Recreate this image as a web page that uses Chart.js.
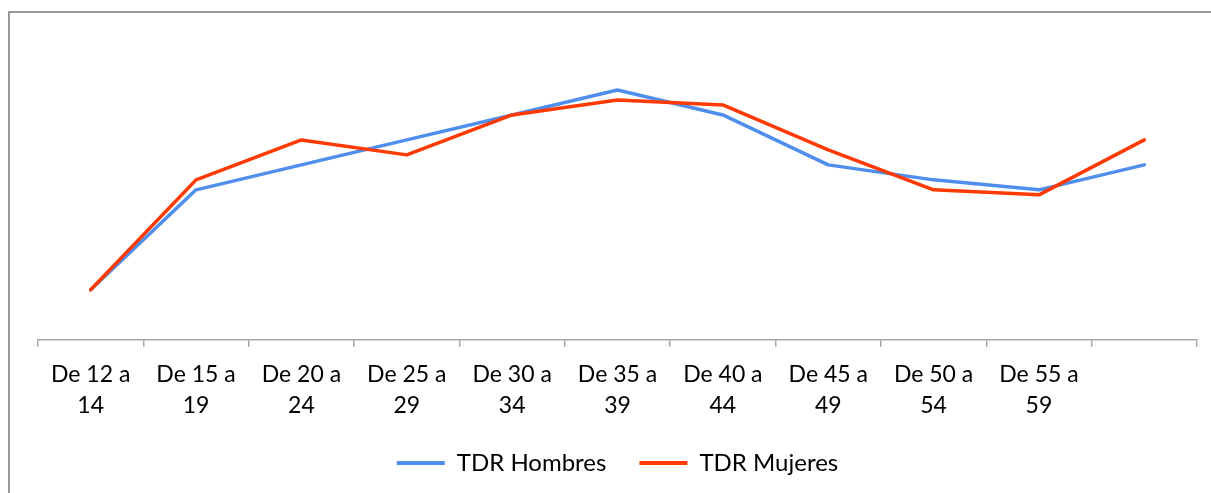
<!DOCTYPE html>
<html>
<head>
<meta charset="utf-8">
<script src="https://cdn.jsdelivr.net/npm/chart.js@4/dist/chart.umd.min.js"></script>
<style>
  html, body { margin: 0; padding: 0; background: #fff; }
  #wrap { position: relative; width: 1211px; height: 493px; overflow: hidden; }
  #frame { position: absolute; left: 8px; top: 11px; width: 1300px; height: 600px;
           border-top: 2px solid #999; border-left: 2px solid #999; box-sizing: border-box; }
  canvas { position: absolute; left: 0; top: 0; }
</style>
</head>
<body>
<div id="wrap">
  <div id="frame"></div>
  <canvas id="c" width="1211" height="493"></canvas>
</div>
<script>
const categories = [
  ['De 12 a', '14'], ['De 15 a', '19'], ['De 20 a', '24'], ['De 25 a', '29'],
  ['De 30 a', '34'], ['De 35 a', '39'], ['De 40 a', '44'], ['De 45 a', '49'],
  ['De 50 a', '54'], ['De 55 a', '59'], ''
];
const seriesNames = ['TDR Hombres', 'TDR Mujeres'];
const tdrHombres = [2.0, 6.0, 7.0, 8.0, 9.0, 10.0, 9.0, 7.0, 6.4, 6.0, 7.0];
const tdrMujeres = [2.0, 6.4, 8.0, 7.4, 9.0, 9.6, 9.4, 7.6, 6.0, 5.8, 8.0];
const colors = ['#4F8EEC', '#FF3A00'];

const FONT = 'Lato';
const XAXIS_H = 78.3;

new Chart(document.getElementById('c'), {
  type: 'line',
  data: {
    labels: categories,
    datasets: [
      { label: seriesNames[0], data: tdrHombres, borderColor: colors[0], backgroundColor: colors[0], order: 1 },
      { label: seriesNames[1], data: tdrMujeres, borderColor: colors[1], backgroundColor: colors[1], order: 0 }
    ]
  },
  options: {
    responsive: false,
    animation: false,
    devicePixelRatio: 1,
    layout: { padding: { left: 38, right: 14, top: 40, bottom: 8 } },
    elements: {
      line: { borderWidth: 3.5, tension: 0, borderJoinStyle: 'round', borderCapStyle: 'round', fill: false },
      point: { radius: 0, hoverRadius: 0 }
    },
    scales: {
      x: {
        offset: true,
        afterFit: (s) => { s.height = XAXIS_H; },
        border: { display: true, color: '#a6a6a6', width: 1.5 },
        grid: { display: true, drawOnChartArea: false, drawTicks: true, tickLength: 7, color: '#a6a6a6', lineWidth: 1.5, offset: true },
        ticks: { color: '#000', font: { family: FONT, size: 23, lineHeight: 1.35 }, padding: 12, maxRotation: 0, autoSkip: false }
      },
      y: { display: false, min: 0, max: 12 }
    },
    plugins: {
      tooltip: { enabled: false },
      legend: {
        position: 'bottom',
        labels: {
          color: '#000',
          font: { family: FONT, size: 24 },
          boxWidth: 48,
          boxHeight: 4,
          padding: 33,
          sort: (a, b) => a.datasetIndex - b.datasetIndex,
          generateLabels: (chart) => chart.data.datasets.map((d, i) => ({
            text: d.label, fillStyle: d.borderColor, strokeStyle: d.borderColor,
            lineWidth: 0, hidden: false, datasetIndex: i, fontColor: '#000'
          }))
        }
      }
    }
  }
});
</script>
</body>
</html>
